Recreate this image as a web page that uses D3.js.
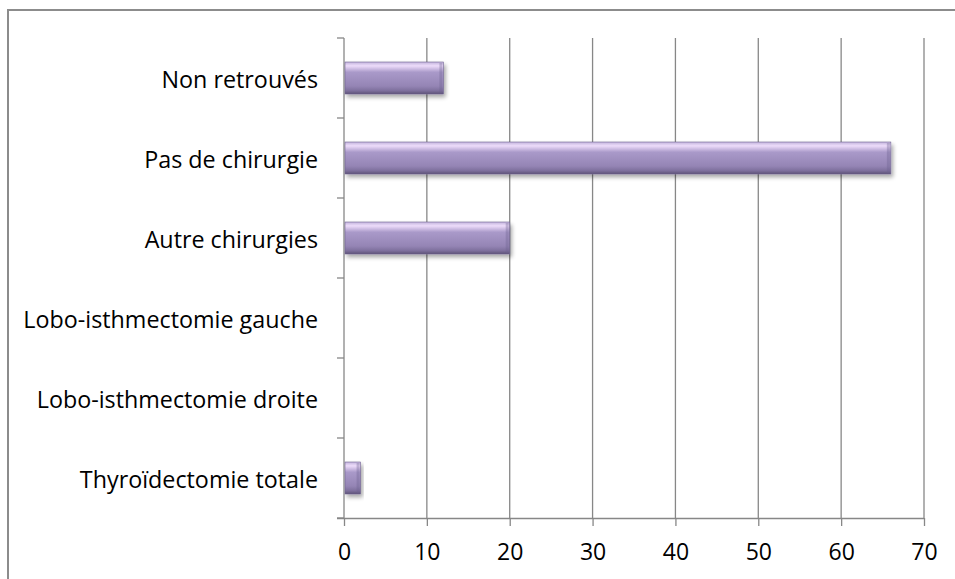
<!DOCTYPE html>
<html>
<head>
<meta charset="utf-8">
<script src="https://cdn.jsdelivr.net/npm/d3@7"></script>
<style>
  html, body { margin: 0; background: #fff; }
  text { font-family: "Open Sans", Lato, sans-serif; fill: #000; }
</style>
</head>
<body>
<script>
const categories = [
  'Thyroïdectomie totale',
  'Lobo-isthmectomie droite',
  'Lobo-isthmectomie gauche',
  'Autre chirurgies',
  'Pas de chirurgie',
  'Non retrouvés'
];
const values = [2, 0, 0, 20, 66, 12];
const xTicks = [0, 10, 20, 30, 40, 50, 60, 70];

const width = 955;
const height = 579;

const svg = d3.select('body').append('svg')
  .attr('width', width)
  .attr('height', height);

const defs = svg.append('defs');

const grad = defs.append('linearGradient')
  .attr('id', 'barGrad')
  .attr('x1', 0).attr('y1', 0).attr('x2', 0).attr('y2', 1);
grad.append('stop').attr('offset', '0%').attr('stop-color', '#c2b3dc');
grad.append('stop').attr('offset', '12%').attr('stop-color', '#eddcfa');
grad.append('stop').attr('offset', '32%').attr('stop-color', '#a999c9');
grad.append('stop').attr('offset', '75%').attr('stop-color', '#9585b5');
grad.append('stop').attr('offset', '90%').attr('stop-color', '#7d6f9c');
grad.append('stop').attr('offset', '100%').attr('stop-color', '#5d5276');

const shadow = defs.append('filter')
  .attr('id', 'shadow')
  .attr('x', '-10%').attr('y', '-30%').attr('width', '130%').attr('height', '180%');
shadow.append('feGaussianBlur').attr('in', 'SourceAlpha').attr('stdDeviation', 2);
shadow.append('feOffset').attr('dx', 2).attr('dy', 3).attr('result', 'off');
shadow.append('feComponentTransfer').append('feFuncA').attr('type', 'linear').attr('slope', 0.35);
const merge = shadow.append('feMerge');
merge.append('feMergeNode');
merge.append('feMergeNode').attr('in', 'SourceGraphic');

// outer frame
svg.append('path')
  .attr('d', `M8,${height} L8,10 L${width},10`)
  .attr('fill', 'none')
  .attr('stroke', '#8c8c8c')
  .attr('stroke-width', 2);

const x = d3.scaleLinear().domain([0, 70]).range([344, 924]);
const y = d3.scaleBand()
  .domain(categories.slice().reverse())
  .range([38, 518])
  .paddingInner(0.6)
  .paddingOuter(0.3);

const gridColor = '#878787';

// gridlines
svg.append('g')
  .selectAll('line')
  .data(xTicks.slice(1))
  .join('line')
  .attr('x1', d => x(d)).attr('x2', d => x(d))
  .attr('y1', 38).attr('y2', 518)
  .attr('stroke', gridColor)
  .attr('stroke-width', 1.3);

// x axis
const xAxis = svg.append('g')
  .attr('transform', 'translate(0,518)')
  .call(d3.axisBottom(x).tickValues(xTicks).tickSize(8).tickPadding(18));
xAxis.select('.domain').attr('stroke', gridColor).attr('stroke-width', 1.3)
  .attr('d', 'M337,0.5H924');
xAxis.selectAll('.tick line').attr('stroke', gridColor).attr('stroke-width', 1.3);
xAxis.selectAll('.tick text')
  .style('font-size', '23px')
  .style('font-family', '"Open Sans", sans-serif');

// y axis: ticks at band boundaries
const step = y.step();
const bounds = d3.range(categories.length + 1).map(i => 38 + i * step);
svg.append('line')
  .attr('x1', 344).attr('x2', 344)
  .attr('y1', 38).attr('y2', 518)
  .attr('stroke', gridColor).attr('stroke-width', 1.3);
svg.append('g')
  .selectAll('line')
  .data(bounds)
  .join('line')
  .attr('x1', 337).attr('x2', 344)
  .attr('y1', d => d).attr('y2', d => d)
  .attr('stroke', gridColor).attr('stroke-width', 1.3);

svg.append('g')
  .selectAll('text')
  .data(categories)
  .join('text')
  .attr('x', 318)
  .attr('y', d => y(d) + y.bandwidth() / 2 + 1)
  .attr('text-anchor', 'end')
  .attr('dominant-baseline', 'central')
  .style('font-size', '23.3px')
  .text(d => d);

// bars
const bars = svg.append('g')
  .selectAll('g')
  .data(categories.map((c, i) => ({ c, v: values[i] })).filter(d => d.v > 0))
  .join('g')
  .attr('filter', 'url(#shadow)');

bars.append('rect')
  .attr('x', x(0) + 1)
  .attr('y', d => y(d.c))
  .attr('width', d => x(d.v) - x(0) - 1)
  .attr('height', y.bandwidth())
  .attr('fill', 'url(#barGrad)')
  .attr('stroke', '#6f6390')
  .attr('stroke-width', 0.6);

// darker bevel on the right end
bars.append('rect')
  .attr('x', d => x(d.v) - 4)
  .attr('y', d => y(d.c) + 1)
  .attr('width', 3)
  .attr('height', y.bandwidth() - 2)
  .attr('fill', '#6e6290')
  .attr('opacity', 0.35);
</script>
</body>
</html>
